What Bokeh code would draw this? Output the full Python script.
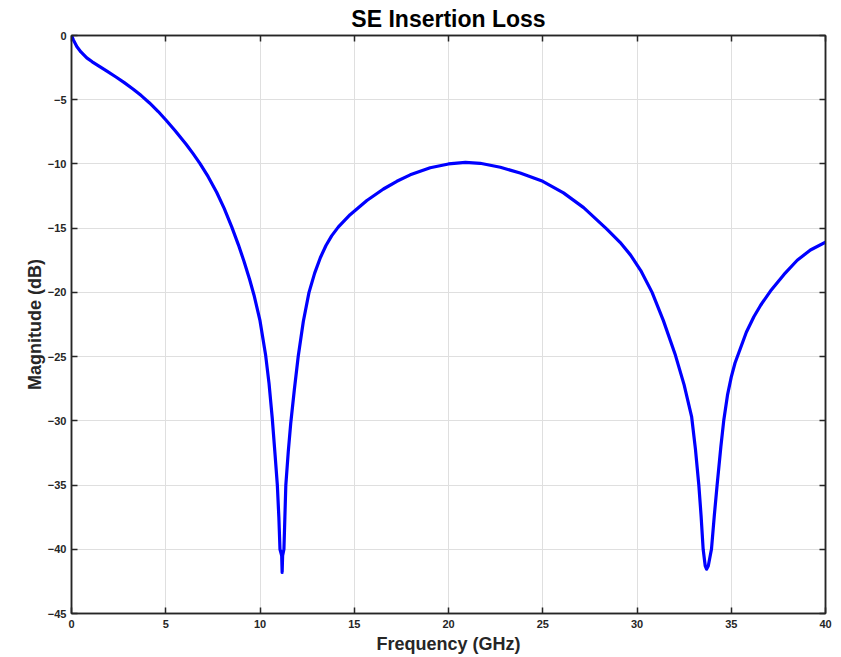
from bokeh.plotting import figure
from bokeh.models import LinearAxis, FixedTicker, Range1d
from bokeh.embed import file_html
from bokeh.resources import INLINE

# Data (frequency in GHz, magnitude in dB)
freq_ghz = [0, 0.1, 0.28, 0.5, 0.81, 1.1, 1.5, 1.9, 2.38, 2.8, 3.26, 3.7,
            4.14, 4.6, 5.02, 5.5, 6.08, 6.45, 6.81, 7.25, 7.7, 8.1, 8.5,
            8.85, 9.15, 9.45, 9.68, 10.0, 10.3, 10.48, 10.65, 10.8, 10.92,
            11.0, 11.06, 11.15, 11.175, 11.2, 11.27, 11.32, 11.37, 11.5,
            11.63, 11.82, 12.03, 12.3, 12.6, 12.9, 13.2, 13.5, 13.8, 14.16,
            14.78, 15.67, 16.55, 17.26, 17.97, 19.03, 20.0, 20.9, 21.68,
            22.75, 23.8, 25.0, 26.1, 27.17, 28.4, 29.1, 29.66, 30.2, 30.8,
            31.4, 32.04, 32.5, 32.9, 33.1, 33.28, 33.4, 33.51, 33.62, 33.69,
            33.78, 33.95, 34.1, 34.25, 34.45, 34.6, 34.8, 35.0, 35.2, 35.4,
            35.8, 36.2, 36.56, 37.08, 37.8, 38.5, 39.2, 40.0]
mag_db = [0, -0.34, -0.86, -1.28, -1.74, -2.05, -2.43, -2.8, -3.25, -3.67,
          -4.16, -4.68, -5.25, -5.92, -6.6, -7.42, -8.47, -9.2, -9.95, -10.99,
          -12.2, -13.46, -14.9, -16.28, -17.57, -19.0, -20.2, -22.2, -24.9,
          -27.1, -29.8, -32.65, -35.0, -37.5, -40.0, -40.5, -41.8, -40.5,
          -40.0, -37.5, -35.0, -32.4, -30.2, -27.6, -24.95, -22.25, -20.0,
          -18.5, -17.3, -16.35, -15.6, -14.9, -13.95, -12.85, -11.95, -11.35,
          -10.85, -10.3, -10.0, -9.88, -9.95, -10.26, -10.7, -11.35, -12.25,
          -13.4, -15.07, -16.1, -17.1, -18.3, -20.0, -22.2, -24.9, -27.2,
          -29.7, -32.2, -35.0, -37.4, -40.0, -41.3, -41.55, -41.3, -40.0,
          -37.4, -35.0, -32.0, -30.0, -28.0, -26.6, -25.5, -24.7, -23.1,
          -21.9, -21.0, -19.9, -18.6, -17.5, -16.7, -16.1]

x_ticks = [0, 5, 10, 15, 20, 25, 30, 35, 40]
y_ticks = [0, -5, -10, -15, -20, -25, -30, -35, -40, -45]

FONT = "Liberation Sans"
DARK = "#262626"

p = figure(width=841, height=657, output_backend="svg", toolbar_location=None,
           x_range=Range1d(0, 40), y_range=Range1d(-45, 0),
           min_border_left=71, min_border_right=16, min_border_top=35,
           min_border_bottom=44, title="SE Insertion Loss")

p.title.text_font = FONT
p.title.text_font_size = "23px"
p.title.text_font_style = "bold"
p.title.align = "center"
p.title.vertical_align = "top"
p.title.text_color = "#000000"
p.title.standoff = 4
p.title.offset = 0

p.line(freq_ghz, mag_db, line_color="#0000ff", line_width=3.2,
       line_join="round", line_cap="round")

p.xaxis.ticker = FixedTicker(ticks=x_ticks)
p.yaxis.ticker = FixedTicker(ticks=y_ticks)
p.xaxis.axis_label = "Frequency (GHz)"
p.yaxis.axis_label = "Magnitude (dB)"

for ax in (p.xaxis[0], p.yaxis[0]):
    ax.axis_label_text_font = FONT
    ax.axis_label_text_font_size = "18px"
    ax.axis_label_text_font_style = "bold"
    ax.axis_label_text_color = DARK
    ax.major_label_text_font = FONT
    ax.major_label_text_font_size = "11px"
    ax.major_label_text_font_style = "bold"
    ax.major_label_text_color = DARK
    ax.major_tick_in = 6
    ax.major_tick_out = 0
    ax.minor_tick_in = 0
    ax.minor_tick_out = 0
    ax.axis_line_color = DARK
    ax.axis_line_width = 1.5
    ax.major_tick_line_color = DARK
    ax.major_tick_line_width = 1.5

p.xaxis.major_label_standoff = 6
p.yaxis.major_label_standoff = 5
p.xaxis.axis_label_standoff = 3
p.yaxis.axis_label_standoff = 0

for side, tick in (("above", x_ticks), ("right", y_ticks)):
    ax = LinearAxis(ticker=FixedTicker(ticks=tick))
    ax.major_label_overrides = {t: "" for t in tick}
    ax.major_label_standoff = 0
    ax.major_tick_in = 6
    ax.major_tick_out = 0
    ax.minor_tick_in = 0
    ax.minor_tick_out = 0
    ax.axis_line_color = DARK
    ax.axis_line_width = 1.5
    ax.major_tick_line_color = DARK
    ax.major_tick_line_width = 1.5
    p.add_layout(ax, side)

p.xgrid.ticker = FixedTicker(ticks=x_ticks)
p.ygrid.ticker = FixedTicker(ticks=y_ticks)
p.grid.grid_line_color = "#dfdfdf"
p.grid.grid_line_width = 1

p.outline_line_color = DARK
p.outline_line_width = 1.5
p.background_fill_color = "white"
p.border_fill_color = "white"

open("out.html", "w").write(file_html(p, INLINE))
